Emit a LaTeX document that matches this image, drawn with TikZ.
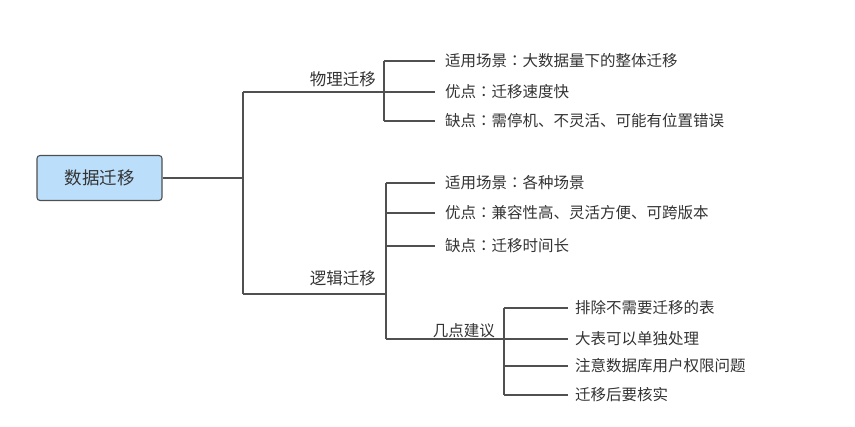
\documentclass[tikz,border=0pt]{standalone}
\usepackage{fontspec}
\setmainfont{Noto Sans CJK SC}
\newfontfamily\tcfont{Noto Sans CJK TC}
\newcommand{\cc}{{\tcfont ：}}
\definecolor{linec}{RGB}{80,80,80}
\definecolor{textc}{RGB}{51,51,51}
\definecolor{rootfill}{RGB}{187,222,251}
\begin{document}
\begin{tikzpicture}[x=1pt,y=-1pt,
  conn/.style={draw=linec,line width=1.3pt},
  rootbox/.style={draw=linec,line width=1.1pt,fill=rootfill,rounded corners=3pt,minimum width=125pt,minimum height=45pt,font=\fontsize{17.5}{20}\selectfont,text=textc},
  branchlbl/.style={anchor=east,inner sep=0pt,font=\fontsize{16.5}{19}\selectfont,text=textc},
  leaf/.style={anchor=west,inner ysep=0pt,inner xsep=10pt,font=\fontsize{15.5}{18}\selectfont,text=textc},
  leafb/.style={leaf,inner xsep=7pt}]
\useasboundingbox (0,0) rectangle (855,427);
\node[rootbox] (root) at (99.5,178) {数据迁移};
% trunk
\coordinate (t1) at (243,92);
\coordinate (t2) at (243,294);
\coordinate (tr) at (root.east -| t1);
\draw[conn] (root.east) -- (tr);
\draw[conn] (t1) -- (t2);
% physical
\coordinate (p) at (384,92);
\coordinate (pa) at (384,61);
\coordinate (pc) at (384,121);
\node[branchlbl] (phys) at (376,79) {物理迁移};
\node[leaf] (p1) at (435,61) {适用场景\cc 大数据量下的整体迁移};
\node[leaf] (p2) at (435,92) {优点\cc 迁移速度快};
\node[leaf] (p3) at (435,121) {缺点\cc 需停机、不灵活、可能有位置错误};
\draw[conn] (t1) -- (p);
\draw[conn] (pa) -- (pc);
\draw[conn] (pa) -- (p1.west);
\draw[conn] (p) -- (p2.west);
\draw[conn] (pc) -- (p3.west);
% logical
\coordinate (l) at (386,294);
\coordinate (la) at (386,183);
\coordinate (lb) at (386,213);
\coordinate (lc) at (386,246);
\coordinate (ld) at (386,339);
\node[branchlbl] (logi) at (376,278) {逻辑迁移};
\node[leaf] (l1) at (435,183) {适用场景\cc 各种场景};
\node[leaf] (l2) at (435,213) {优点\cc 兼容性高、灵活方便、可跨版本};
\node[leaf] (l3) at (435,246) {缺点\cc 迁移时间长};
\draw[conn] (t2) -- (l);
\draw[conn] (la) -- (ld);
\draw[conn] (la) -- (l1.west);
\draw[conn] (lb) -- (l2.west);
\draw[conn] (lc) -- (l3.west);
% suggestions
\coordinate (s) at (504,339);
\coordinate (sa) at (504,308);
\coordinate (sc) at (504,366);
\coordinate (sd) at (504,395);
\node[branchlbl,font=\fontsize{15.5}{18}\selectfont] (sugg) at (495,331) {几点建议};
\node[leafb] (s1) at (568,308) {排除不需要迁移的表};
\node[leafb] (s2) at (568,339) {大表可以单独处理};
\node[leafb] (s3) at (568,366) {注意数据库用户权限问题};
\node[leafb] (s4) at (568,395) {迁移后要核实};
\draw[conn] (ld) -- (s);
\draw[conn] (sa) -- (sd);
\draw[conn] (sa) -- (s1.west);
\draw[conn] (s) -- (s2.west);
\draw[conn] (sc) -- (s3.west);
\draw[conn] (sd) -- (s4.west);
\end{tikzpicture}
\end{document}
